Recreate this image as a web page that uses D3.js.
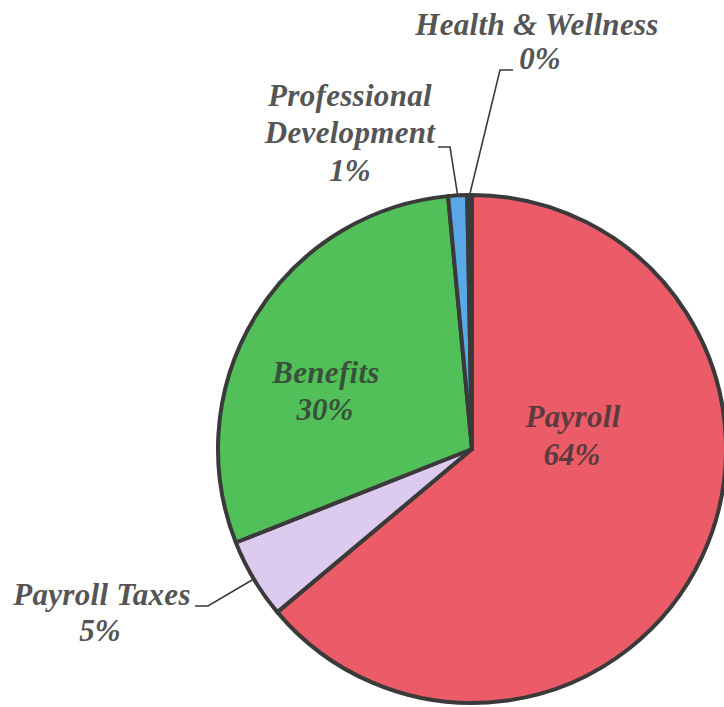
<!DOCTYPE html>
<html>
<head>
<meta charset="utf-8">
<script src="https://cdn.jsdelivr.net/npm/d3@7"></script>
<style>
  body { margin: 0; background: #fff; }
  #chart text { font-family: "Liberation Serif", "Times New Roman", serif; font-weight: bold; font-style: italic; }
</style>
</head>
<body>
<div id="chart"></div>
<script>
// slices, clockwise from 12 o'clock
var categories = ["Payroll", "Payroll Taxes", "Benefits", "Professional Development", "Health & Wellness"];
var values = [63.9, 5.1, 29.5, 1.2, 0.3];
var colors = ["#eb5b68", "#dccbef", "#52c058", "#5aa9e6", "#3a3a3a"];

// label layout: text lines and where they sit
var labelLines = [["Payroll"], ["Payroll Taxes"], ["Benefits"], ["Professional", "Development"], ["Health & Wellness"]];
var labelPos = [[573, 427], [102, 605], [326, 383], [350, 106], [537, 35]];
var pctPos = [[572, 465], [100, 641], [325, 420], [350, 181], [540, 69]];
// elbow of leader line (start, bend) for outside labels, null for inside
var leaders = [null, [[195, 606], [208, 606]], null, [[438, 147], [450, 147]], [[513, 70], [500, 70]]];

var width = 724, height = 707;
var cx = 472, cy = 449, radius = 254;

var svg = d3.select("#chart")
  .append("svg")
    .attr("width", width)
    .attr("height", height);

var g = svg.append("g")
    .attr("transform", "translate(" + cx + "," + cy + ")");

var pie = d3.pie().sort(null).value(function(d) { return d; });
var arc = d3.arc().innerRadius(0).outerRadius(radius);
var arcs = pie(values);

g.selectAll("path")
    .data(arcs)
    .enter()
    .append("path")
      .attr("d", arc)
      .attr("fill", function(d, i) { return colors[i]; })
      .attr("stroke", "#3a3a3a")
      .attr("stroke-width", 4)
      .attr("stroke-linejoin", "round");

// leader lines
arcs.forEach(function(d, i) {
    if (!leaders[i]) return;
    var a = (d.startAngle + d.endAngle) / 2;
    var edge = [cx + radius * Math.sin(a), cy - radius * Math.cos(a)];
    var pts = [leaders[i][0], leaders[i][1], edge];
    svg.append("path")
        .attr("d", d3.line()(pts))
        .attr("fill", "none")
        .attr("stroke", "#3a3a3a")
        .attr("stroke-width", 1.6);
});

// labels
var inside = [true, false, true, false, false];
arcs.forEach(function(d, i) {
    var fill = inside[i] ? "#333" : "#555";
    var op = inside[i] ? 0.8 : 1;
    labelLines[i].forEach(function(t, j) {
        svg.append("text")
            .attr("x", labelPos[i][0])
            .attr("y", labelPos[i][1] + j * 37)
            .attr("text-anchor", "middle")
            .attr("font-size", 31)
            .attr("letter-spacing", 0.3)
            .attr("fill", fill)
            .attr("fill-opacity", op)
            .text(t);
    });
    svg.append("text")
        .attr("x", pctPos[i][0])
        .attr("y", pctPos[i][1])
        .attr("text-anchor", "middle")
        .attr("font-size", 31)
        .attr("fill", fill)
        .attr("fill-opacity", op)
        .text(Math.round(values[i]) + "%");
});
</script>
</body>
</html>
